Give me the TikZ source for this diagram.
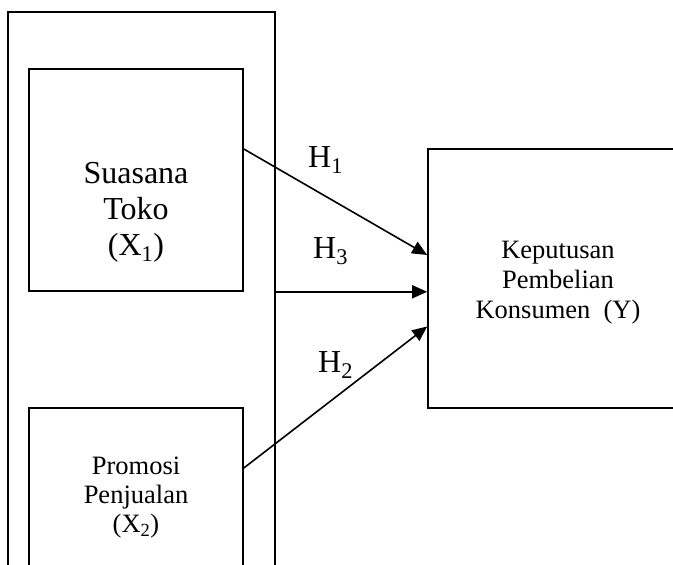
\documentclass[tikz,border=0pt]{standalone}
\usepackage{fontspec}
\setmainfont{Liberation Serif}
\usetikzlibrary{arrows.meta, positioning, calc}

\begin{document}
\begin{tikzpicture}[x=1pt, y=-1pt,
            box/.style={draw, line width=1.6pt, inner sep=0pt},
            boxtext/.style={align=center, inner sep=0pt},
            hyp/.style={->, >={Triangle[length=15pt,width=13pt]}, line width=1.6pt},
            hlabel/.style={anchor=base west, inner sep=0pt, font=\fontsize{32}{36}\selectfont}]
            \useasboundingbox (0,0) rectangle (673,565);
            \clip (0,0) rectangle (673,565);

            % kerangka luar
            \node[box, minimum width=267pt, minimum height=600pt] (frame) at (141.5,312) {};

            % suasana toko
            \node[box, minimum width=214pt, minimum height=222pt] (toko) at (136,180) {};
            \node[boxtext, font=\fontsize{32}{36}\selectfont] (tokotext) at ([yshift=-32pt]toko.center) {
                Suasana\\
                Toko\\
                (X\textsubscript{1})
            };

            % promosi penjualan
            \node[box, minimum width=214pt, minimum height=174pt] (promo) at (136,495) {};
            \node[boxtext, font=\fontsize{26.5}{29}\selectfont] (promotext) at ([yshift=-3pt]promo.center) {
                Promosi\\
                Penjualan\\
                (X\textsubscript{2})
            };

            % keputusan pembelian
            \node[box, minimum width=260pt, minimum height=259pt] (beli) at (558,278.5) {};
            \node[boxtext, font=\fontsize{26.5}{30}\selectfont] (belitext) at ([yshift=-4.5pt]beli.center) {
                Keputusan\\
                Pembelian\\
                Konsumen~~(Y)
            };

            % hipotesis
            \draw[hyp] ([yshift=31pt]toko.east) -- ([yshift=23.5pt]beli.west);
            \draw[hyp] (frame.east |- toko.south) -- (beli.west |- toko.south);
            \draw[hyp] ([yshift=27pt]promo.east) -- ([yshift=-48pt]beli.west);

            \node[hlabel] (h1) at (308,167) {H\textsubscript{1}};
            \node[hlabel] (h3) at (313,258) {H\textsubscript{3}};
            \node[hlabel] (h2) at (318,372) {H\textsubscript{2}};
        \end{tikzpicture}
\end{document}
